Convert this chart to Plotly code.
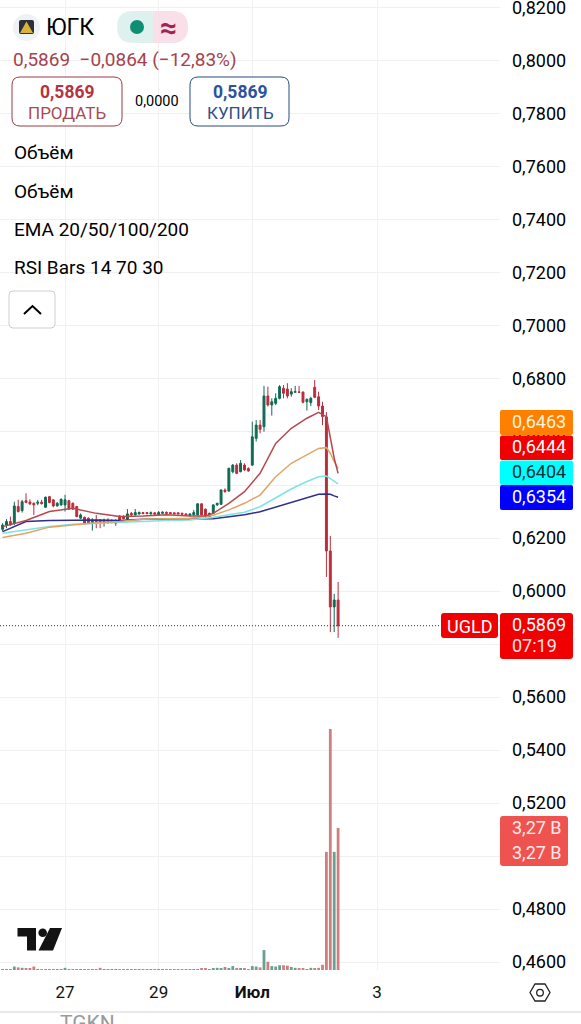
import plotly.graph_objects as go

W, H = 581, 1024

# Hourly bars
opens = [
    .6233, .6249, .6262, .6256, .6319, .6304, .6341, .6336, .6331, .6331,
    .6335, .6316, .6356, .6344, .6321, .6325, .6325, .6341, .6331, .6319,
    .6275, .6278, .6275, .6256, .6268, .6268, .6256, .6268, .6258, .6256,
    .6283, .6281, .6271, .6293, .6287, .6291, .6296, .6296, .6291, .6295,
    .6288, .6293, .6297, .6296, .6295, .6295, .6293, .6291, .6286, .6288,
    .6287, .6329, .6309, .6280, .6293, .6325, .6327, .6381, .6377, .6450,
    .6475, .6450, .6475, .6462, .6475, .6576, .6626, .6620, .6736, .6702,
    .6708, .6727, .6765, .6762, .6743, .6750, .6751, .6751, .6714, .6711,
    .6769, .6733, .6698, .6657, .6151, .5940, .5966,
]
highs = [
    .6256, .6271, .6281, .6337, .6344, .6344, .6369, .6346, .6334, .6344,
    .6344, .6356, .6359, .6346, .6336, .6349, .6363, .6344, .6334, .6321,
    .6293, .6281, .6277, .6275, .6287, .6271, .6273, .6275, .6271, .6271,
    .6286, .6286, .6309, .6298, .6309, .6300, .6298, .6297, .6300, .6297,
    .6302, .6301, .6300, .6297, .6296, .6296, .6296, .6293, .6293, .6306,
    .6331, .6331, .6311, .6296, .6327, .6333, .6384, .6387, .6465, .6479,
    .6482, .6494, .6482, .6467, .6639, .6645, .6645, .6774, .6771, .6727,
    .6746, .6777, .6777, .6784, .6765, .6774, .6774, .6752, .6727, .6733,
    .6796, .6752, .6714, .6675, .6208, .5989, .6034,
]
lows = [
    .6224, .6237, .6246, .6249, .6296, .6296, .6331, .6324, .6287, .6324,
    .6326, .6314, .6331, .6316, .6319, .6322, .6300, .6306, .6306, .6278,
    .6272, .6251, .6253, .6228, .6237, .6237, .6243, .6253, .6256, .6246,
    .6266, .6271, .6268, .6283, .6285, .6288, .6291, .6290, .6288, .6287,
    .6286, .6292, .6292, .6291, .6290, .6290, .6287, .6283, .6281, .6283,
    .6285, .6285, .6277, .6278, .6291, .6321, .6325, .6371, .6375, .6444,
    .6441, .6448, .6453, .6450, .6472, .6564, .6595, .6601, .6696, .6662,
    .6702, .6723, .6727, .6727, .6733, .6748, .6748, .6708, .6681, .6698,
    .6728, .6683, .6626, .6053, .5845, .5845, .5823,
]
closes = [
    .6249, .6262, .6249, .6321, .6300, .6337, .6334, .6329, .6325, .6335,
    .6330, .6354, .6334, .6321, .6331, .6346, .6344, .6309, .6309, .6281,
    .6287, .6253, .6256, .6268, .6262, .6256, .6268, .6258, .6266, .6266,
    .6268, .6273, .6291, .6287, .6296, .6296, .6292, .6292, .6295, .6290,
    .6296, .6297, .6293, .6292, .6291, .6291, .6290, .6286, .6290, .6296,
    .6329, .6287, .6281, .6293, .6325, .6331, .6381, .6375, .6463, .6475,
    .6444, .6482, .6457, .6453, .6582, .6626, .6610, .6736, .6702, .6714,
    .6727, .6771, .6746, .6736, .6752, .6752, .6750, .6712, .6723, .6727,
    .6731, .6698, .6658, .6151, .5940, .5966, .5869,
]
# Volume in billions
volumes = [
    .01, .01, .01, .08, .06, .05, .04, .03, .08, .02,
    .01, .01, .02, .01, .01, .02, .05, .02, .01, .02,
    .02, .01, .02, .02, .02, .05, .01, .01, .01, .02,
    .01, .01, .01, .02, .01, .01, .01, .02, .01, .01,
    .02, .01, .01, .01, .02, .01, .01, .02, .01, .01,
    .02, .03, .03, .02, .04, .05, .04, .07, .03, .09,
    .04, .03, .03, .02, .09, .08, .06, .46, .19, .09,
    .08, .11, .11, .10, .07, .05, .03, .03, .02, .05,
    .03, .05, .12, 2.72, 5.55, 2.72, 3.27,
]

# EMA lines, read at these bars
ema_bars = [0, 6, 12, 18, 24, 30, 36, 42, 48, 52, 54, 58, 62, 66, 70, 74, 78, 81, 83, 84, 85, 86]
ema_20 = [.6243, .6266, .6300, .6312, .6293, .6281, .6283, .6288, .6283, .6283, .6293,
          .6331, .6375, .6444, .6557, .6614, .6652, .6674, .6658, .6582, .6501, .6444]
ema_50 = [.6202, .6218, .6241, .6249, .6258, .6262, .6271, .6273, .6275, .6281, .6286,
          .6306, .6331, .6362, .6431, .6482, .6513, .6538, .6541, .6520, .6488, .6463]
ema_100 = [.6218, .6231, .6243, .6252, .6256, .6258, .6262, .6266, .6268, .6273, .6278,
           .6288, .6297, .6318, .6350, .6385, .6413, .6431, .6434, .6425, .6413, .6404]
ema_200 = [.6224, .6262, .6266, .6268, .6268, .6266, .6271, .6272, .6273, .6275, .6273,
           .6280, .6288, .6299, .6316, .6333, .6350, .6365, .6366, .6365, .6359, .6354]

tick_bars = [16, 40, 64, 96]
tick_text = ["27", "29", "<b>Июл</b>", "3"]
price_ticks = [0.46 + 0.02 * i for i in range(19)]

last_price = 0.5869
ticker = "UGLD"
name = "ЮГК"
change_text = "0,5869  −0,0864 (−12,83%)"
indicators = ["Объём", "Объём", "EMA 20/50/100/200", "RSI Bars 14 70 30"]
ema_labels = ["0,6463", "0,6444", "0,6404", "0,6354"]
volume_label = "3,27 B"

bars = list(range(len(closes)))
UP = "#0d6b52"
DOWN = "#bb2d3b"
FONT = "Roboto"


def px(x):
    return x / W


def py(y):
    return 1 - y / H


def round_rect(x0, y0, x1, y1, r):
    # rounded box as an svg path in paper coords
    a, b, c, d = px(x0), px(x1), py(y0), py(y1)
    rx, ry = r / W, r / H
    return (f"M{a + rx},{c} L{b - rx},{c} Q{b},{c} {b},{c - ry} L{b},{d + ry} Q{b},{d} {b - rx},{d} "
            f"L{a + rx},{d} Q{a},{d} {a},{d + ry} L{a},{c - ry} Q{a},{c} {a + rx},{c} Z")


def poly(points):
    return "M" + " L".join(f"{px(x)},{py(y)}" for x, y in points) + " Z"


def box(x0, y0, x1, y1, r=0, fill="white", line=None, width=1):
    return dict(type="path", xref="paper", yref="paper", path=round_rect(x0, y0, x1, y1, r),
                fillcolor=fill, line=dict(color=line or fill, width=width if line else 0), layer="above")


def label(text, x, y, size=19, color="black", anchor="left", family=FONT):
    return dict(text=text, x=px(x), y=py(y), xref="paper", yref="paper", xanchor=anchor, yanchor="middle",
                showarrow=False, font=dict(family=family, size=size, color=color), borderpad=0)


fig = go.Figure()

fig.add_trace(go.Bar(
    x=bars, y=volumes, yaxis="y2", width=0.72,
    marker=dict(color=["#6b9f94" if c >= o else "#d07f7f" for o, c in zip(opens, closes)], line_width=0),
))

fig.add_trace(go.Candlestick(
    x=bars, open=opens, high=highs, low=lows, close=closes,
    increasing=dict(line=dict(color=UP, width=1), fillcolor=UP),
    decreasing=dict(line=dict(color=DOWN, width=1), fillcolor=DOWN),
))

for values, color in [(ema_200, "#2e2e8c"), (ema_100, "#7fe3e3"), (ema_50, "#e0a566"), (ema_20, "#b8474f")]:
    fig.add_trace(go.Scatter(x=ema_bars, y=values, mode="lines", line=dict(color=color, width=1.5)))

shapes = [
    # last price line
    dict(type="line", xref="paper", yref="y", x0=0, x1=px(441), y0=last_price, y1=last_price,
         line=dict(color="#333333", width=1, dash="1px,2px")),
    # logo in the header
    dict(type="circle", xref="paper", yref="paper", x0=px(13), x1=px(40), y0=py(41), y1=py(14),
         fillcolor="#eef1f6", line_width=0),
    box(19, 20, 34, 34, 2, fill="#2b2f3a"),
    dict(type="path", xref="paper", yref="paper", path=poly([(26.5, 21.5), (33, 33), (20, 33)]),
         fillcolor="#d9b23a", line_width=0, layer="above"),
    # status pill
    box(117, 11, 165, 43, 16, fill="#dff1ee"),
    box(153, 11, 188, 43, 16, fill="#f9e0e8"),
    box(153, 11, 165, 43, 0, fill="#f9e0e8"),
    dict(type="circle", xref="paper", yref="paper", x0=px(130), x1=px(144), y0=py(34), y1=py(20),
         fillcolor="#0e8f73", line_width=0, layer="above"),
    # sell / buy buttons
    box(12, 77, 122, 126, 8, line="#9c3a44"),
    box(190, 77, 289, 126, 8, line="#2a4a80"),
    # collapse button
    box(9, 291, 55, 328, 4, line="#cfcfcf"),
    dict(type="path", xref="paper", yref="paper",
         path=f"M{px(24)},{py(314)} L{px(32.5)},{py(306)} L{px(41)},{py(314)}",
         line=dict(color="black", width=2), layer="above"),
    # price labels on the right
    box(500, 410, 573, 435, 2, fill="#ff7f00"),
    box(500, 435.5, 573, 460, 2, fill="#f00000"),
    box(500, 460.5, 573, 485, 2, fill="#00ffff"),
    box(500, 485, 573, 510, 2, fill="#0000ff"),
    box(441, 613, 498, 638, 3, fill="#f00000"),
    box(500, 613, 573, 659, 3, fill="#f00000"),
    box(500, 816, 568, 866, 3, fill="#ef5350"),
    # tradingview mark
    dict(type="path", xref="paper", yref="paper",
         path=poly([(17.5, 928), (36, 928), (36, 950.5), (27, 950.5), (27, 936.5), (17.5, 936.5)]),
         fillcolor="#131313", line_width=0, layer="above"),
    dict(type="circle", xref="paper", yref="paper", x0=px(38.4), x1=px(47), y0=py(937), y1=py(928.4),
         fillcolor="#131313", line_width=0, layer="above"),
    dict(type="path", xref="paper", yref="paper", path=poly([(50, 928), (62, 928), (53, 950.5), (38.5, 950.5)]),
         fillcolor="#131313", line_width=0, layer="above"),
    # settings hexagon
    dict(type="path", xref="paper", yref="paper",
         path=poly([(530, 992.5), (535, 984), (545, 984), (550, 992.5), (545, 1001), (535, 1001)]),
         line=dict(color="#222222", width=1.3), layer="above"),
    dict(type="circle", xref="paper", yref="paper", x0=px(536.7), x1=px(543.3), y0=py(996), y1=py(989.4),
         line=dict(color="#222222", width=1.3), layer="above"),
    # bottom rule
    dict(type="line", xref="paper", yref="paper", x0=0, x1=1, y0=py(1012), y1=py(1012),
         line=dict(color="#e9e9e9", width=2)),
]

annotations = [
    label(name, 45, 27, size=23),
    label("<b>≈</b>", 168, 27, size=30, color="#a3234f", anchor="center"),
    label(change_text, 11.5, 59, size=19, color="#a5424d"),
    label(f"<b>{change_text[:6]}</b>", 67, 92, size=17.5, color="#b5343f", anchor="center"),
    label("ПРОДАТЬ", 67, 113, size=17, color="#a84a52", anchor="center"),
    label("0,0000", 157, 101, size=14.5, anchor="center"),
    label(f"<b>{change_text[:6]}</b>", 240, 92, size=17.5, color="#2a52a0", anchor="center"),
    label("КУПИТЬ", 240, 113, size=17, color="#2e4f86", anchor="center"),
    label(indicators[0], 13, 152),
    label(indicators[1], 13, 191),
    label(indicators[2], 13, 229),
    label(indicators[3], 13, 267),
    label(ema_labels[0], 511, 421, size=18, color="#fff3dc"),
    label(ema_labels[1], 511, 446, size=18, color="white"),
    label(ema_labels[2], 511, 471, size=18, color="#10303a"),
    label(ema_labels[3], 511, 496, size=18, color="white"),
    label(ticker, 469.5, 626, size=18, color="white", anchor="center"),
    label(change_text[:6], 511, 624, size=18, color="white"),
    label("07:19", 511, 645, size=18, color="#ffe3e3"),
    label(volume_label, 511, 827, size=18, color="#ffeaea"),
    label(volume_label, 511, 852, size=18, color="#ffeaea"),
    label("TGKN", 59, 1023, size=21, color="#9a9a9a"),
]

fig.update_layout(
    width=W, height=H,
    margin=dict(l=0, r=0, t=0, b=0, autoexpand=False),
    paper_bgcolor="white", plot_bgcolor="white",
    showlegend=False,
    separators=", ",
    font=dict(family=FONT, color="black"),
    shapes=shapes,
    annotations=annotations,
    xaxis=dict(
        domain=[0, 500 / W], range=[-0.67, 127.5], type="linear", automargin=False,
        rangeslider=dict(visible=False),
        tickmode="array", tickvals=tick_bars, ticktext=tick_text,
        tickfont=dict(size=17, family=FONT, color="#111111"),
        showgrid=True, gridcolor="#f0f0f0", gridwidth=1,
        zeroline=False, showline=False, ticks="", ticklabelstandoff=10,
    ),
    yaxis=dict(
        domain=[1 - 970 / H, 1], range=[0.4570, 0.8230], side="right", automargin=False,
        tickmode="array", tickvals=price_ticks, tickformat=".4f",
        tickfont=dict(size=18, family=FONT, color="black"),
        showgrid=True, gridcolor="#f0f0f0", gridwidth=1,
        zeroline=False, showline=False, ticks="", ticklabelstandoff=11,
        ticklabeloverflow="allow",
    ),
    yaxis2=dict(
        domain=[1 - 970 / H, 1], range=[0, 22.34], overlaying="y", side="right", automargin=False,
        showgrid=False, zeroline=False, showticklabels=False, ticks="",
    ),
)

# no page margin, and the half-cut bottom label must not make the page taller
fig.write_html("out.html", config={"displayModeBar": False},
               post_script="document.documentElement.style.overflow='hidden';"
                           "document.body.style.margin='0';document.body.style.height='1024px';"
                           "document.body.style.overflow='hidden';"
                           "var gd=document.querySelector('.plotly-graph-div');gd.style.overflow='hidden';"
                           "gd.parentElement.style.height='1024px';gd.parentElement.style.overflow='hidden';")
